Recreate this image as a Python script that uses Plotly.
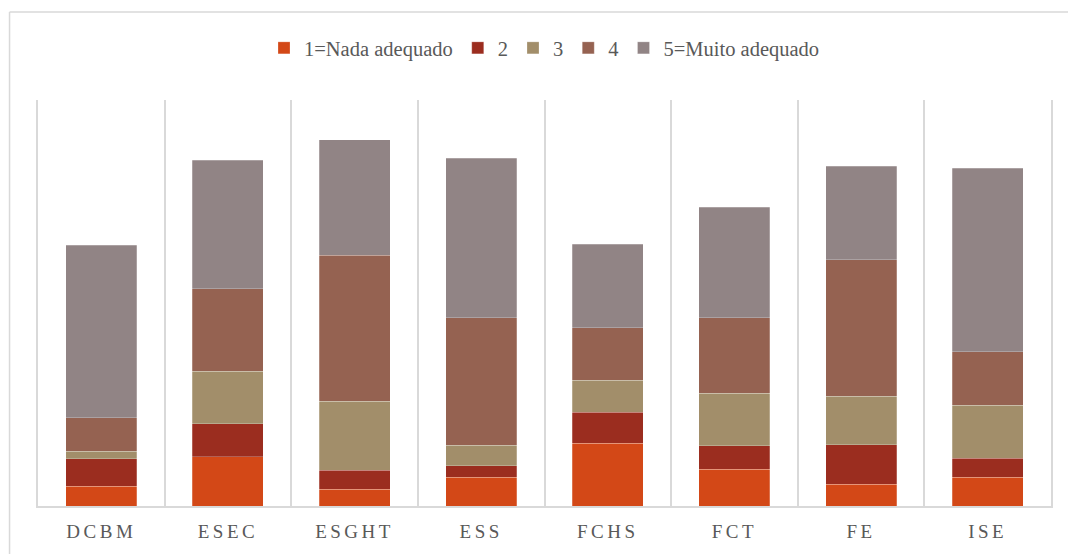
import plotly.graph_objects as go

categories = ["DCBM", "ESEC", "ESGHT", "ESS", "FCHS", "FCT", "FE", "ISE"]
series_names = ["1=Nada adequado", "2", "3", "4", "5=Muito adequado"]
v1 = [20.0, 49.3, 17.0, 29.0, 63.0, 37.0, 22.0, 29.0]
v2 = [27.3, 33.0, 19.0, 11.3, 31.0, 23.3, 39.3, 18.7]
v3 = [7.4, 52.7, 68.7, 20.7, 31.7, 52.4, 48.7, 53.3]
v4 = [33.6, 82.3, 146.0, 127.3, 52.6, 75.6, 136.3, 53.3]
v5 = [172.7, 128.7, 115.6, 159.7, 83.7, 110.7, 93.4, 183.7]
colors = ["#D34817", "#9B2D1F", "#A28E6A", "#956251", "#918485"]

fig = go.Figure()
for name, vals, col in zip(series_names, [v1, v2, v3, v4, v5], colors):
    fig.add_trace(go.Bar(
        x=categories, y=vals, name=name,
        marker=dict(color=col, line=dict(color="rgba(255,255,255,0.3)", width=0.8)),
    ))

fig.update_layout(
    width=1068, height=554,
    barmode="stack", bargap=0.44,
    margin=dict(l=38, r=17, t=100, b=48),
    paper_bgcolor="white", plot_bgcolor="white",
    font=dict(family="Liberation Serif, serif", color="#595959"),
    legend=dict(orientation="h", x=0.5, xanchor="center", y=1.128, yanchor="middle",
                font=dict(size=20.5, color="#595959"), itemwidth=30, traceorder="normal"),
    xaxis=dict(tickson="boundaries", showgrid=True, gridcolor="#d9d9d9", gridwidth=1.5,
               showline=True, linecolor="#d9d9d9", linewidth=1.5, ticks="",
               automargin=False,
               tickfont=dict(size=19, color="#595959"), ticklabelstandoff=7),
    yaxis=dict(range=[0, 406], showgrid=False, showticklabels=False, zeroline=False,
               automargin=False,
               showline=True, mirror=True, linecolor="#d9d9d9", linewidth=1.5),
    shapes=[
        dict(type="line", xref="paper", yref="paper", x0=-0.0281, x1=-0.0281, y0=-0.2, y1=1.2167,
             line=dict(color="#d9d9d9", width=1.5)),
        dict(type="line", xref="paper", yref="paper", x0=-0.0281, x1=1.05, y0=1.2167, y1=1.2167,
             line=dict(color="#d9d9d9", width=1.5)),
    ],
)

post = """
document.body.style.margin='0';
document.body.style.padding='0';
var s=document.createElement('style');
s.innerHTML='.xtick text{letter-spacing:3.5px}';
document.head.appendChild(s);
"""
fig.write_html("out.html", post_script=post, config={"displayModeBar": False})
